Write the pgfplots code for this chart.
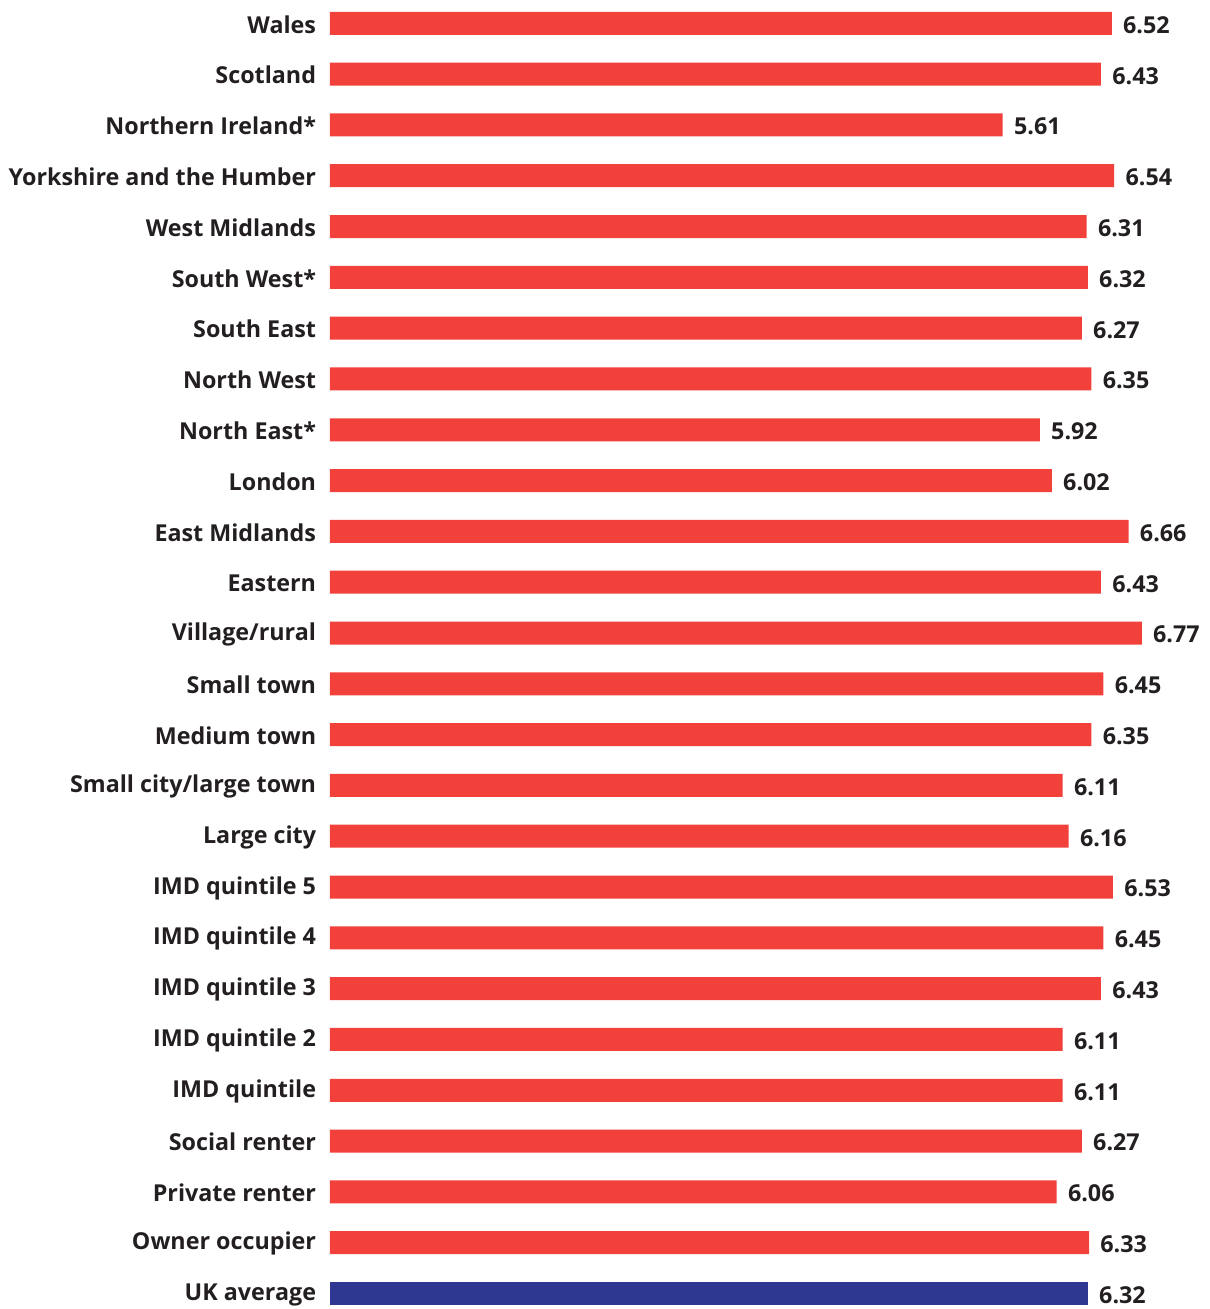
\documentclass[border=0pt]{standalone}
\usepackage{pgfplots}
\pgfplotsset{compat=1.18}
\usepackage{fontspec}
\setmainfont{Open Sans}
\definecolor{barred}{HTML}{F2413B}
\definecolor{barblue}{HTML}{2E3890}
\definecolor{txt}{HTML}{231F20}
\begin{document}
\begin{tikzpicture}
\begin{axis}[
  scale only axis,
  width=439.5pt, height=654.5pt,
  xbar, bar shift=0pt, bar width=11.5pt,
  xmin=0, xmax=7.331,
  ymin=-0.459, ymax=25.305,
  y dir=reverse,
  axis line style={draw=none},
  hide x axis,
  major tick style={draw=none},
  ytick={0,...,25},
  yticklabels={Wales,Scotland,Northern Ireland*,Yorkshire and the Humber,West Midlands,South West*,South East,North West,North East*,London,East Midlands,Eastern,Village/rural,Small town,Medium town,Small city/large town,Large city,IMD quintile 5,IMD quintile 4,IMD quintile 3,IMD quintile 2,IMD quintile,Social renter,Private renter,Owner occupier,UK average},
  yticklabel style={inner sep=0pt, xshift=-2.5pt, yshift=-0.5pt, font=\fontsize{11.65}{13}\selectfont\bfseries, text=txt},
  /pgf/number format/assume math mode=true,
  point meta=x,
  nodes near coords,
  nodes near coords align=horizontal,
  every node near coord/.append style={inner sep=0pt, xshift=5.5pt, yshift=-0.8pt, font=\fontsize{11.65}{13}\selectfont\bfseries, text=txt,
    /pgf/number format/.cd, fixed, fixed zerofill, precision=2},
]
\addplot[fill=barred, draw=none] coordinates {
(6.52,0) (6.43,1) (5.61,2) (6.54,3) (6.31,4) (6.32,5) (6.27,6) (6.35,7) (5.92,8) (6.02,9) (6.66,10) (6.43,11) (6.77,12) (6.45,13) (6.35,14) (6.11,15) (6.16,16) (6.53,17) (6.45,18) (6.43,19) (6.11,20) (6.11,21) (6.27,22) (6.06,23) (6.33,24)
};
\addplot[fill=barblue, draw=none] coordinates {(6.32,25)};
\end{axis}
\pgfresetboundingbox
\path (-165pt,0pt) rectangle (439.5pt,654.5pt);
\end{tikzpicture}
\end{document}
